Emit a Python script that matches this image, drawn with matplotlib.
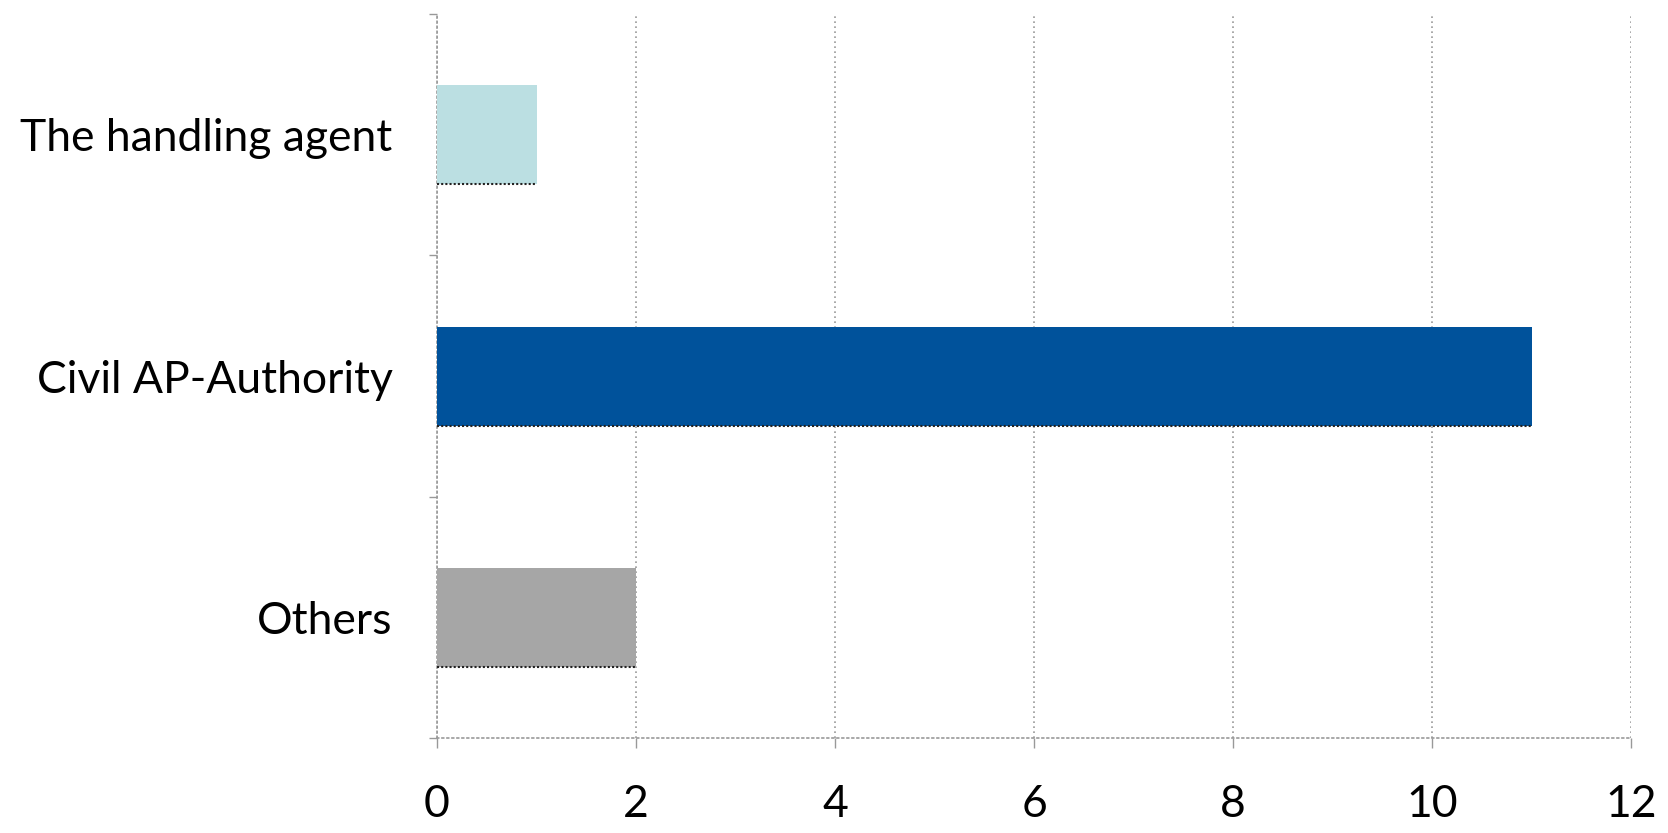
import matplotlib
matplotlib.use("Agg")
import matplotlib.pyplot as plt
import numpy as np

categories = ["The handling agent", "Civil AP-Authority", "Others"]
values = [1, 11, 2]
colors = ["#BBDFE2", "#00529B", "#A6A6A6"]
xticks = [0, 2, 4, 6, 8, 10, 12]

plt.rcParams['font.family'] = ['Lato', 'DejaVu Sans']

fig = plt.figure(figsize=(16.68, 8.33), dpi=100)
ax = fig.add_axes([0.262, 0.114, 0.716, 0.869])

y = np.arange(len(categories))
ax.barh(y, values, height=0.41, color=colors, zorder=3)
# dotted dark line at bar bottoms
for yi, v in zip(y, values):
    ax.plot([0, v], [yi + 0.205, yi + 0.205], color="#222222", lw=1.5,
            linestyle=(0, (1, 1)), zorder=4)

ax.set_xlim(0, 12)
ax.set_ylim(2.5, -0.5)
ax.set_xticks(xticks)
ax.set_xticklabels([str(t) for t in xticks])
ax.set_yticks(y)
ax.set_yticklabels(categories)
ax.set_yticks([-0.5, 0.5, 1.5, 2.5], minor=True)

ax.tick_params(axis='y', which='major', length=0, pad=32, labelsize=32)
ax.tick_params(axis='y', which='minor', length=6, color="#999999", width=1)
ax.tick_params(axis='x', which='major', length=7, color="#999999", width=1,
               pad=26, labelsize=32)

ax.grid(axis='x', color="#999999", linestyle=(0, (1, 2)), lw=1.2, zorder=0)
for s in ['top', 'right']:
    ax.spines[s].set_visible(False)
for s in ['left', 'bottom']:
    ax.spines[s].set_color("#999999")
    ax.spines[s].set_linestyle((0, (1, 2)))
    ax.spines[s].set_linewidth(1.2)

fig.savefig("out.png", dpi=100)
